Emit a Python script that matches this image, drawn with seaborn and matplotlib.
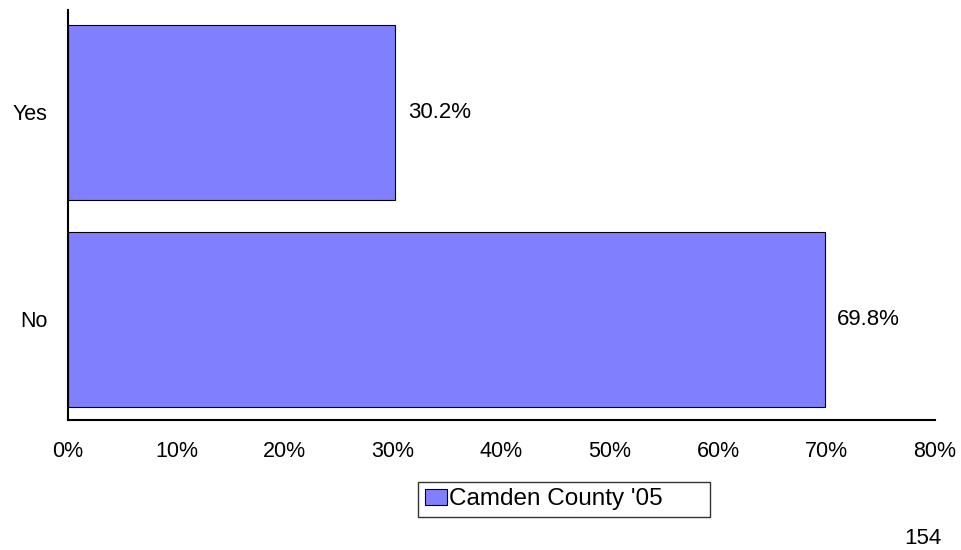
import pandas as pd
import matplotlib
matplotlib.use('Agg')
import matplotlib.pyplot as plt
import seaborn as sns
from matplotlib.ticker import FuncFormatter

# chart values
categories = ['Yes', 'No']
values = [30.2, 69.8]
series_name = "Camden County '05"
x_ticks = [0, 10, 20, 30, 40, 50, 60, 70, 80]
page_number = '154'

df = pd.DataFrame({'answer': categories, 'pct': values})

sns.set_style('white')
plt.rcParams['font.family'] = ['Liberation Sans', 'DejaVu Sans']
plt.rcParams['text.color'] = 'black'
plt.rcParams['xtick.color'] = 'black'
plt.rcParams['ytick.color'] = 'black'

fig = plt.figure(figsize=(9.61, 5.5), dpi=100)
ax = fig.add_axes([0.0708, 0.2364, 0.9022, 0.7454])

sns.barplot(data=df, x='pct', y='answer', orient='h', color='#8080FF',
            saturation=1, edgecolor='black', linewidth=0.8, width=0.845, ax=ax)

ax.set_xlim(0, 80)
ax.set_ylim(1.486, -0.495)
ax.set_xticks(x_ticks)
ax.xaxis.set_major_formatter(FuncFormatter(lambda v, p: f'{v:.0f}%'))
ax.tick_params(axis='x', length=0, pad=15, labelsize=15.5)
ax.tick_params(axis='y', length=0, pad=15, labelsize=15.5)
ax.set_xlabel('')
ax.set_ylabel('')

for side in ['top', 'right']:
    ax.spines[side].set_visible(False)
ax.spines['left'].set_color('black')
ax.spines['bottom'].set_color('black')
ax.spines['left'].set_linewidth(1.5)
ax.spines['bottom'].set_linewidth(1.5)

ax.bar_label(ax.containers[0], labels=[f'{v:.1f}%' for v in values],
             padding=9, fontsize=16)

leg = fig.legend([ax.containers[0].patches[0]], [series_name],
                 loc='center', mode='expand',
                 bbox_to_anchor=(418 / 961, 1 - 517 / 550, 292 / 961, 35 / 550),
                 fancybox=False, edgecolor='black', fontsize=17.5,
                 handlelength=0.9, handleheight=0.6, handletextpad=0.1,
                 borderpad=0.28, borderaxespad=0)
leg.get_frame().set_linewidth(1.0)

fig.text(942 / 961, 1 - 538 / 550, page_number, ha='right', va='center', fontsize=16)

fig.savefig('out.png', dpi=100)
